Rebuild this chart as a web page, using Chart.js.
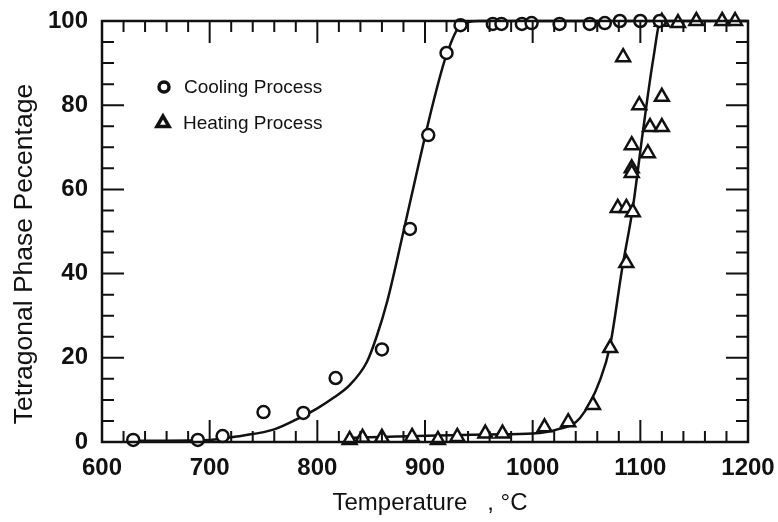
<!DOCTYPE html>
<html lang="en">
<head>
<meta charset="UTF-8">
<title>Tetragonal Phase Percentage vs Temperature</title>
<script src="https://cdn.jsdelivr.net/npm/chart.js"></script>
<style>
  body { margin: 0; background: #fff; }
  #wrap { width: 778px; height: 522px; }
</style>
</head>
<body>
<div id="wrap"><canvas id="chart" width="778" height="522"></canvas></div>
<script>
const coolingT = [629, 689, 712, 750, 787, 817, 860, 886, 903, 920, 933, 963, 971, 990, 999, 1025, 1053, 1067, 1081, 1100, 1118];
const coolingP = [0.5, 0.5, 1.4, 7.1, 6.9, 15.2, 22, 50.6, 72.9, 92.4, 99, 99.3, 99.3, 99.3, 99.5, 99.3, 99.3, 99.5, 100, 100, 100];

const heatingT = [830, 842, 860, 888, 912, 930, 956, 972, 1011, 1033, 1056, 1072, 1087, 1079, 1087, 1093, 1092, 1092, 1092, 1107, 1099, 1109, 1120, 1120, 1084, 1120, 1135, 1152, 1176, 1188];
const heatingP = [0.5, 1, 1, 1.2, 0.5, 1.2, 2, 2, 3.5, 4.7, 8.8, 22.3, 42.5, 55.6, 55.6, 54.6, 65, 63.9, 70.5, 68.6, 80, 74.8, 74.8, 82, 91.4, 99.8, 99.5, 100, 100, 100];

// fitted curves
const coolCurveT = [625, 700, 730, 760, 784, 800, 815, 830, 846, 855, 865, 880, 895, 908, 920, 933, 950, 1120];
const coolCurveP = [0.3, 0.5, 1.5, 3, 5.8, 8, 10.5, 13.5, 19, 25, 33.5, 50, 67, 81, 92, 99, 100, 100];
const heatCurveT = [830, 960, 1000, 1023, 1044, 1063, 1072, 1083, 1093, 1102, 1112, 1119, 1200];
const heatCurveP = [1, 1.8, 2, 3, 5.7, 15, 23, 41, 55.6, 73, 91, 100, 100];

const xTickLabels = [600, 700, 800, 900, 1000, 1100, 1200];
const yTickLabels = [0, 20, 40, 60, 80, 100];

const ink = '#111';
const pairs = (xs, ys) => xs.map((v, i) => ({ x: v, y: ys[i] }));

// frame with inward ticks on all four sides
const framePlugin = {
  id: 'frame',
  afterDraw(chart) {
    const { ctx, chartArea: a, scales: { x, y } } = chart;
    ctx.save();
    ctx.strokeStyle = ink;
    ctx.lineWidth = 2;
    ctx.beginPath();
    for (let v = 600; v <= 1200; v += 20) {
      const px = x.getPixelForValue(v);
      const len = v % 100 === 0 ? 22 : 11;
      ctx.moveTo(px, a.bottom); ctx.lineTo(px, a.bottom - len);
      ctx.moveTo(px, a.top); ctx.lineTo(px, a.top + len);
    }
    for (let v = 0; v <= 100; v += 5) {
      const py = y.getPixelForValue(v);
      const len = v % 20 === 0 ? 22 : 12;
      ctx.moveTo(a.left, py); ctx.lineTo(a.left + len, py);
      ctx.moveTo(a.right, py); ctx.lineTo(a.right - len, py);
    }
    ctx.stroke();
    ctx.lineWidth = 2.5;
    ctx.strokeRect(a.left, a.top, a.right - a.left, a.bottom - a.top);

    // axis titles
    ctx.fillStyle = ink;
    ctx.textAlign = 'center';
    ctx.textBaseline = 'middle';
    ctx.font = '24px "Liberation Sans", Arial, sans-serif';
    ctx.fillText('Temperature   , \u00B0C', (a.left + a.right) / 2 + 5, 503);
    ctx.translate(25, 254);
    ctx.rotate(-Math.PI / 2);
    ctx.font = '26.5px "Liberation Sans", Arial, sans-serif';
    ctx.fillText('Tetragonal Phase Pecentage', 0, 0);
    ctx.restore();
  }
};

// legend inside the plot, upper left
const legendPlugin = {
  id: 'innerLegend',
  afterDraw(chart) {
    const { ctx } = chart;
    const rows = [
      { ds: chart.data.datasets[0], x: 164, y: 87 },
      { ds: chart.data.datasets[1], x: 163, y: 123 }
    ];
    ctx.save();
    ctx.font = '19px "Liberation Sans", Arial, sans-serif';
    ctx.textBaseline = 'middle';
    rows.forEach(r => {
      ctx.fillStyle = '#fff';
      ctx.strokeStyle = ink;
      ctx.lineWidth = 3.5;
      Chart.helpers.drawPoint(ctx, {
        pointStyle: r.ds.pointStyle,
        radius: r.ds.pointStyle === 'circle' ? 5 : 7,
        borderWidth: 3.5,
        rotation: 0
      }, r.x, r.y);
      ctx.fillStyle = ink;
      ctx.fillText(r.ds.label, r.x + 20, r.y + 1);
    });
    ctx.restore();
  }
};

new Chart(document.getElementById('chart'), {
  type: 'scatter',
  data: {
    datasets: [
      {
        label: 'Cooling Process',
        data: pairs(coolingT, coolingP),
        pointStyle: 'circle',
        pointRadius: 6,
        pointBorderWidth: 2.5,
        pointBorderColor: ink,
        pointBackgroundColor: '#fff',
        showLine: false,
        clip: false
      },
      {
        label: 'Heating Process',
        data: pairs(heatingT, heatingP),
        pointStyle: 'triangle',
        pointRadius: 8,
        pointBorderWidth: 2.5,
        pointBorderColor: ink,
        pointBackgroundColor: '#fff',
        showLine: false,
        clip: false
      },
      {
        label: 'cooling fit',
        data: pairs(coolCurveT, coolCurveP),
        showLine: true,
        pointRadius: 0,
        borderColor: ink,
        borderWidth: 2.5,
        cubicInterpolationMode: 'monotone',
        clip: false
      },
      {
        label: 'heating fit',
        data: pairs(heatCurveT, heatCurveP),
        showLine: true,
        pointRadius: 0,
        borderColor: ink,
        borderWidth: 2.5,
        cubicInterpolationMode: 'monotone',
        clip: false
      }
    ]
  },
  options: {
    responsive: false,
    animation: false,
    layout: { padding: { left: 0, top: 21, right: 30, bottom: 0 } },
    plugins: { legend: { display: false }, tooltip: { enabled: false } },
    scales: {
      x: {
        type: 'linear',
        min: 600,
        max: 1200,
        afterBuildTicks: s => { s.ticks = xTickLabels.map(v => ({ value: v })); },
        afterFit: s => { s.height = 80; s.paddingLeft = 0; s.paddingRight = 0; },
        grid: { display: false, drawTicks: false },
        border: { display: false },
        ticks: {
          padding: 12,
          color: ink,
          maxRotation: 0,
          callback: v => String(v),
          font: { family: '"Liberation Sans", Arial, sans-serif', size: 24, weight: 'bold' }
        }
      },
      y: {
        min: 0,
        max: 100,
        afterBuildTicks: s => { s.ticks = yTickLabels.map(v => ({ value: v })); },
        afterFit: s => { s.width = 102; s.paddingTop = 0; s.paddingBottom = 0; },
        grid: { display: false, drawTicks: false },
        border: { display: false },
        ticks: {
          padding: 14,
          color: ink,
          callback: v => String(v),
          font: { family: '"Liberation Sans", Arial, sans-serif', size: 24, weight: 'bold' }
        }
      }
    }
  },
  plugins: [framePlugin, legendPlugin]
});
</script>
</body>
</html>
